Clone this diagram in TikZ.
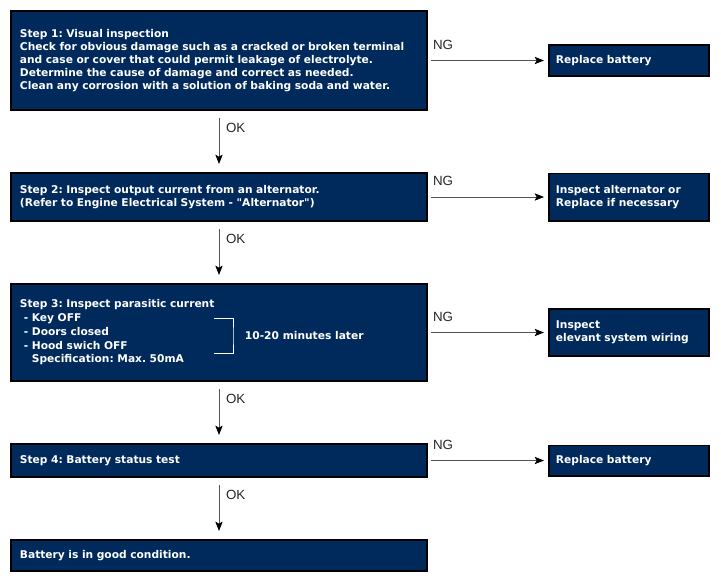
\documentclass[tikz,border=0pt]{standalone}
\usepackage{fontspec}
\setmainfont{Liberation Sans}
\newfontfamily\boxfont{DejaVu Sans}
\usetikzlibrary{positioning,arrows.meta}
\definecolor{navy}{RGB}{0,42,92}
\definecolor{wire}{RGB}{85,85,85}
\begin{document}
\frenchspacing
\begin{tikzpicture}
        [
        x = 0.75pt, y = 0.75pt,
        node distance = 45.75pt and 90pt,
        ok arrow/.style = {wire, semithick, -{Stealth[length=7pt, width=5.5pt, inset=1.5pt, black]}, shorten <=5.5pt, shorten >=6pt},
        ng arrow/.style = {wire, semithick, -{Stealth[length=7pt, width=5.5pt, inset=1.5pt, black]}, shorten <=2.5pt, shorten >=3pt},
        ]
        \tikzstyle{check node}=[rectangle,draw=black,line width=1.4pt,fill=navy,text=white,font=\boxfont\bfseries\fontsize{8}{9.9}\selectfont,align=left,inner xsep=6.75pt,inner ysep=0pt,text width=298.6pt]
        \tikzstyle{fix node}=[check node,inner xsep=5.25pt,text width=109.6pt]
        \tikzstyle{tag node}=[inner sep=0,text=black!85,font=\fontsize{10}{11}\selectfont]
    
        \useasboundingbox (0,0) rectangle (721,-583);

        \node[check node, minimum height=74.35pt, anchor=north west] (s1) at (10,-10)
            {Step 1: Visual inspection\\
            Check for obvious damage such as a cracked or broken terminal\\
            and case or cover that could permit leakage of electrolyte.\\
            Determine the cause of damage and correct as needed.\\
            Clean any corrosion with a solution of baking soda and water.};
        \node[check node, minimum height=36.1pt, below=of s1] (s2)
            {Step 2: Inspect output current from an alternator.\\
            (Refer to Engine Electrical System - "Alternator")};
        \node[check node, minimum height=72.85pt, below=of s2, font=\boxfont\bfseries\fontsize{8}{10.3}\selectfont] (s3)
            {Step 3: Inspect parasitic current\\
            \hspace*{3pt}- Key OFF\\
            \hspace*{3pt}- Doors closed\\
            \hspace*{3pt}- Hood swich OFF\\
            \hspace*{9pt}Specification: Max. 50mA};
        \node[check node, minimum height=24.85pt, below=of s3] (s4) {Step 4: Battery status test};
        \node[check node, minimum height=23.35pt, below=of s4] (s5) {Battery is in good condition.};

        \node[fix node, minimum height=23.35pt, right=of s1] (r1) {Replace battery};
        \node[fix node, minimum height=35.35pt, right=of s2] (r2) {Inspect alternator or\\Replace if necessary};
        \node[fix node, minimum height=35.35pt, right=of s3] (r3) {Inspect\\elevant system wiring};
        \node[fix node, minimum height=22.6pt, right=of s4] (r4) {Replace battery};

        \node[check node, draw=none, fill=none, text width=, anchor=west, inner sep=0pt] (later)
            at ([xshift=175.5pt, yshift=-2.6pt]s3.west) {10-20 minutes later};
        \draw[white, thin] ([xshift=-22.5pt, yshift=13pt]later.west) -| ([xshift=-8.25pt]later.west)
            |- ([xshift=-22.5pt, yshift=-13pt]later.west);

        \draw[ok arrow] (s1) -- node[tag node, pos=0.28, right=5pt]{OK} (s2);
        \draw[ok arrow] (s2) -- node[tag node, pos=0.28, right=5pt]{OK} (s3);
        \draw[ok arrow] (s3) -- node[tag node, pos=0.28, right=5pt]{OK} (s4);
        \draw[ok arrow] (s4) -- node[tag node, pos=0.28, right=5pt]{OK} (s5);

        \draw[ng arrow] (s1) -- node[tag node, pos=0, anchor=south west, xshift=3.5pt, yshift=8pt]{NG} (r1);
        \draw[ng arrow] (s2) -- node[tag node, pos=0, anchor=south west, xshift=3.5pt, yshift=8pt]{NG} (r2);
        \draw[ng arrow] (s3) -- node[tag node, pos=0, anchor=south west, xshift=3.5pt, yshift=8pt]{NG} (r3);
        \draw[ng arrow] (s4) -- node[tag node, pos=0, anchor=south west, xshift=3.5pt, yshift=8pt]{NG} (r4);
    \end{tikzpicture}
\end{document}
